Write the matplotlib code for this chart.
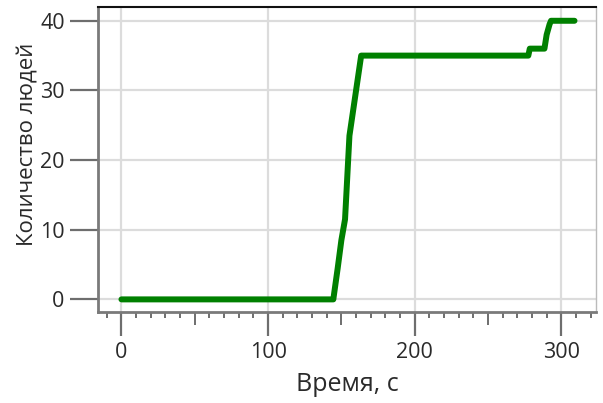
import matplotlib
matplotlib.use("Agg")
import matplotlib.pyplot as plt
from matplotlib.ticker import MultipleLocator

# время (с) и количество людей
time_s = [0, 144.5, 147.5, 150, 152.5, 155.5, 163.5, 277.5, 278.5, 288.5, 290, 292, 293, 309]
people = [0, 0, 4.5, 8.5, 11.5, 23.5, 35, 35, 36, 36, 38, 39.5, 40, 40]

x_ticks = [0, 100, 200, 300]
y_ticks = [0, 10, 20, 30, 40]

plt.rcParams['font.family'] = ['Open Sans', 'DejaVu Sans']

fig = plt.figure(figsize=(6.03, 4.03), dpi=100)
ax = fig.add_axes([0.1625, 0.226, 0.8255, 0.757])

ax.plot(time_s, people, color='#008000', linewidth=4.3,
        solid_joinstyle='round', solid_capstyle='round', zorder=3)

ax.set_xlim(-16, 323.5)
ax.set_ylim(-1.8, 42)
ax.set_xticks(x_ticks)
ax.set_yticks(y_ticks)
ax.xaxis.set_minor_locator(MultipleLocator(10))
ax.grid(True, which='major', color='#dcdcdc', linewidth=1.6)

ax.tick_params(axis='both', which='major', labelsize=15.5, colors='#6e6e6e',
               labelcolor='#2a2a2a', width=1.6, direction='out')
ax.tick_params(axis='x', which='major', length=17, pad=5)
ax.tick_params(axis='y', which='major', length=20, pad=4)
ax.tick_params(axis='x', which='minor', length=4, width=1.4, colors='#6e6e6e')

# средние риски на 50, 150, 250
fig.canvas.draw()
for loc, tick in zip(ax.xaxis.get_minorticklocs(), ax.xaxis.get_minor_ticks()):
    if abs(loc % 50) < 1e-6:
        tick.tick1line.set_markersize(9)

for side in ['left', 'bottom']:
    ax.spines[side].set_color('#7a7a7a')
    ax.spines[side].set_linewidth(2)
ax.spines['top'].set_color('#111111')
ax.spines['top'].set_linewidth(1.5)
ax.spines['right'].set_color('#bbbbbb')
ax.spines['right'].set_linewidth(1)

ax.set_xlabel('Время, с', fontsize=18, color='#2a2a2a')
ax.set_ylabel('Количество людей', fontsize=16, color='#2a2a2a')
ax.xaxis.set_label_coords(0.5, -0.197)
ax.yaxis.set_label_coords(-0.12, 0.548)

fig.savefig('out.png', dpi=100)
